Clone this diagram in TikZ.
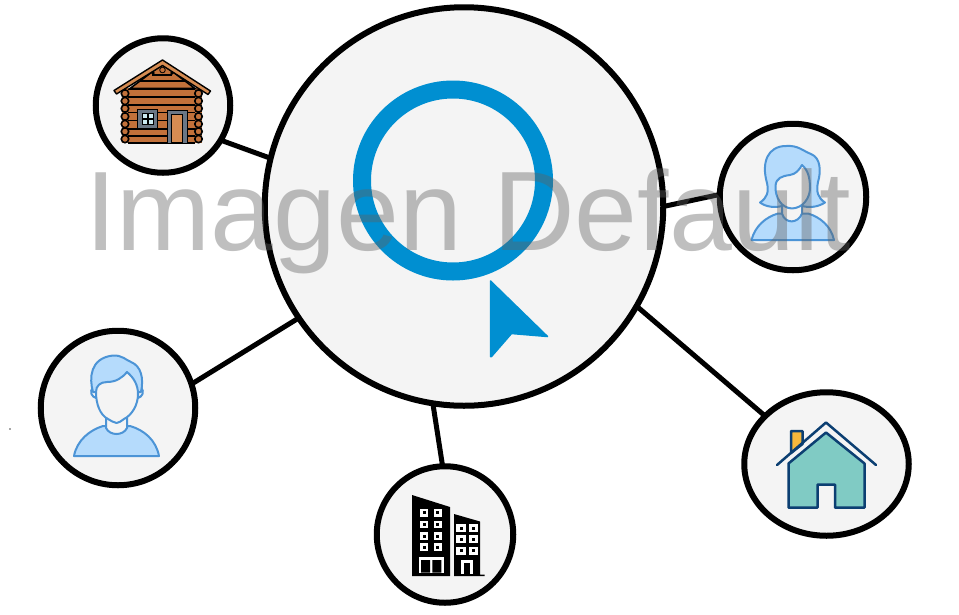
\documentclass[tikz,border=0pt]{standalone}
\usepackage{fontspec}
\usepackage{xcolor}
\newfontfamily\markfont{Liberation Sans}
\usetikzlibrary{shapes.geometric,calc}

\definecolor{discbg}{HTML}{F4F4F4}
\definecolor{lensblue}{HTML}{008FD1}
\definecolor{skinblue}{HTML}{B5DBFC}
\definecolor{lineblue}{HTML}{4C94D6}
\definecolor{logbrown}{HTML}{C2713A}
\definecolor{doorbrown}{HTML}{D68C52}
\definecolor{framegray}{HTML}{6B7785}
\definecolor{paneblue}{HTML}{CDEBF2}
\definecolor{roofnavy}{HTML}{0C3F72}
\definecolor{wallteal}{HTML}{80CBC4}
\definecolor{chimneyyel}{HTML}{F6B83C}
\definecolor{markgray}{HTML}{606060}

\tikzset{
    disc/.style={draw=black, fill=discbg, circle, line width=6pt, inner sep=0pt, outer sep=0pt},
    link/.style={draw=black, line width=5pt},
    person/.style={draw=lineblue, fill=skinblue, line width=2pt, line join=round},
    face/.style={draw=lineblue, fill=discbg, line width=2pt, line join=round},
    log/.style={draw=black, line width=1.6pt},
    navy/.style={draw=roofnavy, line width=2.5pt, line join=round},
}

\begin{document}
\begin{tikzpicture}[x=1pt, y=-1pt]
    \useasboundingbox (0,0) rectangle (959,614);

    \node[disc, minimum size=398.5pt] (Hub) at (464,206.5) {};
    \node[disc, minimum size=134.5pt] (Cabin) at (163,105.5) {};
    \node[disc, minimum size=146.5pt] (Woman) at (793,197) {};
    \node[disc, minimum size=154.5pt] (Man) at (118,408) {};
    \node[disc, minimum size=136.5pt] (Tower) at (445,534.5) {};
    \node[disc, ellipse, minimum width=164.5pt, minimum height=143.5pt] (Home) at (826.5,464) {};

    \draw[link] (Hub.166) -- (Cabin.-31);
    \draw[link] (Hub.0) -- (Woman.178);
    \draw[link] (Hub.214.5) -- (Man.18);
    \draw[link] (Hub.261) -- (Tower.92);
    \draw[link] (Hub.-30) -- (Home.142);

    % search symbol
    \node[circle, draw=lensblue, line width=18pt, minimum size=182pt, inner sep=0pt] (Lens) at (453,180.5) {};
    \fill[lensblue, draw=lensblue, line width=1.5pt, line join=round]
        (490.5,281) -- (547.5,336.5) -- (511.5,333.5) -- (491.5,356.5) -- (490.5,356.5) -- cycle;

    % log cabin
    \fill[logbrown] (122,88) rectangle (202,143);
    \foreach \yy in {89.5,97,105,112.5,120.5,129,136,143} {
        \draw[log] (128,\yy) -- (195,\yy);
    }
    \foreach \yy in {93.5,101,108.5,116.5,124,131.5,139} {
        \draw[log, fill=logbrown] (125,\yy) circle (3.7pt);
        \draw[log, fill=logbrown] (198.5,\yy) circle (3.7pt);
    }
    \draw[log, fill=logbrown] (162.5,64) -- (195,88.5) -- (130,88.5) -- cycle;
    \draw[log] (139.5,81) -- (185,81);
    \draw[log] (152,75) -- (172,75);
    \draw[black, line width=.8pt, fill=logbrown] (162.5,70) circle (2.8pt);
    \fill[black] (153,73) circle (1.8pt) (172,73) circle (1.8pt);
    \draw[black, line width=1.4pt, fill=doorbrown, line join=round]
        (114,90.5) -- (162.5,60) -- (210.5,91) -- (208,94.5) -- (162.5,65.5) -- (116.5,94) -- cycle;
    \draw[black, line width=.9pt, fill=framegray] (137.5,109.5) rectangle (157,128.5);
    \fill[black] (141.5,112.5) rectangle (154,125);
    \foreach \xx in {142.5,148.5} {
        \foreach \yy in {113.5,119.5} {
            \fill[paneblue] (\xx,\yy) rectangle ++(4.7,4.7);
        }
    }
    \draw[black, line width=1pt, fill=framegray] (167,110) rectangle (187.5,143);
    \draw[black, line width=.8pt, fill=doorbrown] (171.7,114.3) rectangle (182.7,142.5);

    % woman
    \draw[person] (751.5,240) .. controls (755,226) and (766,217) .. (778,213.5)
        -- (808,213.5) .. controls (820,217) and (831,226) .. (834,240) -- cycle;
    \draw[person] (760,202.5) .. controls (767,198) and (769,192) .. (767,183)
        .. controls (761,162) and (768,146) .. (786,146)
        .. controls (798,145) and (803,151) .. (811,154)
        .. controls (821,158) and (821,172) .. (818,182)
        .. controls (816,192) and (818,198) .. (825,202.5)
        .. controls (818,207) and (810,208) .. (802,206)
        -- (782,206) .. controls (775,208) and (766,207) .. (760,202.5) -- cycle;
    \draw[face] (782,203) -- (782,213.5) .. controls (785,224) and (798,224) .. (802,213.5) -- (802,203) -- cycle;
    \draw[face] (775.5,186) .. controls (776,178) and (782,176) .. (790,175)
        .. controls (796,174) and (799,170) .. (802,165)
        .. controls (808,170) and (810,178) .. (810,188)
        .. controls (810,198) and (803,208) .. (792,208.5)
        .. controls (781,208) and (775,197) .. (775.5,186) -- cycle;

    % man
    \draw[person] (74,456) .. controls (77,440) and (90,430) .. (103,426)
        -- (130,426) .. controls (144,430) and (156,440) .. (159,456) -- cycle;
    \draw[face] (106,415) -- (106,428) .. controls (110,436) and (123,436) .. (127,428) -- (127,415) -- cycle;
    \draw[face] (93,387) .. controls (89,392) and (92,397) .. (96,398) -- (96,387) -- cycle;
    \draw[face] (141,387) .. controls (145,392) and (142,397) .. (138,398) -- (138,387) -- cycle;
    \draw[person] (93,392) .. controls (89,378) and (90,358) .. (113,355.5)
        .. controls (122,355) and (126,360) .. (131,362)
        .. controls (141,366) and (144,378) .. (141,392) -- (135,392) -- (100,392) -- cycle;
    \draw[face] (96,392) .. controls (96,386) and (100,382) .. (107,382)
        .. controls (116,382) and (122,378) .. (127,372)
        .. controls (134,378) and (138,385) .. (138,394)
        .. controls (138,405) and (132,415) .. (124,419)
        .. controls (121,421) and (119,423) .. (116.5,423)
        .. controls (113,423) and (111,420) .. (108,419)
        .. controls (100,415) and (96,404) .. (96,392) -- cycle;

    % office buildings
    \fill[black] (412,495) -- (450,507) -- (450,576) -- (412,576) -- cycle;
    \fill[black] (454,514) -- (480,521.5) -- (480,574.5) -- (484.5,574.5) -- (484.5,576) -- (454,576) -- cycle;
    \foreach \xx in {420.3,434} {
        \foreach \yy in {509,520.7,532.3,543.3} {
            \fill[white] (\xx,\yy) rectangle ++(7.7,7.7);
            \fill[black] ($(\xx,\yy)+(2.4,2.4)$) rectangle ++(3,3);
        }
    }
    \foreach \xx in {456.3,468.7} {
        \foreach \yy in {524.3,535,546.7} {
            \fill[white] (\xx,\yy) rectangle ++(9.6,8);
            \fill[black] ($(\xx,\yy)+(3.4,2.5)$) rectangle ++(3,3);
        }
    }
    \fill[white] (419,556.7) rectangle (443.7,572.5);
    \fill[black] (421,560) rectangle (430,572.5) (432.3,560) rectangle (441.3,572.5);
    \fill[white] (460.7,560) rectangle (473,573.5);
    \fill[black] (463.7,562.7) rectangle (470.3,573.5);

    % house
    \draw[navy, fill=chimneyyel] (791,453) -- (791,431) -- (802.5,431) -- (802.5,444) -- cycle;
    \draw[navy, fill=wallteal] (788.5,463.5) -- (826,432.5) -- (864.5,463.5) -- (864.5,507.5) -- (835,507.5)
        -- (835,484.5) -- (817.5,484.5) -- (817.5,507.5) -- (788.5,507.5) -- cycle;
    \draw[navy, line cap=round] (777,465) -- (826,422.5) -- (876,465);

    % stray speck
    \fill[black!70] (10,429) circle (.8pt);

    % watermark over everything
    \node[anchor=base west, inner sep=0pt, text=markgray, text opacity=.4, font=\markfont\fontsize{113}{113}\selectfont] (Mark) at (85,250) {Imagen Default};
\end{tikzpicture}
\end{document}
